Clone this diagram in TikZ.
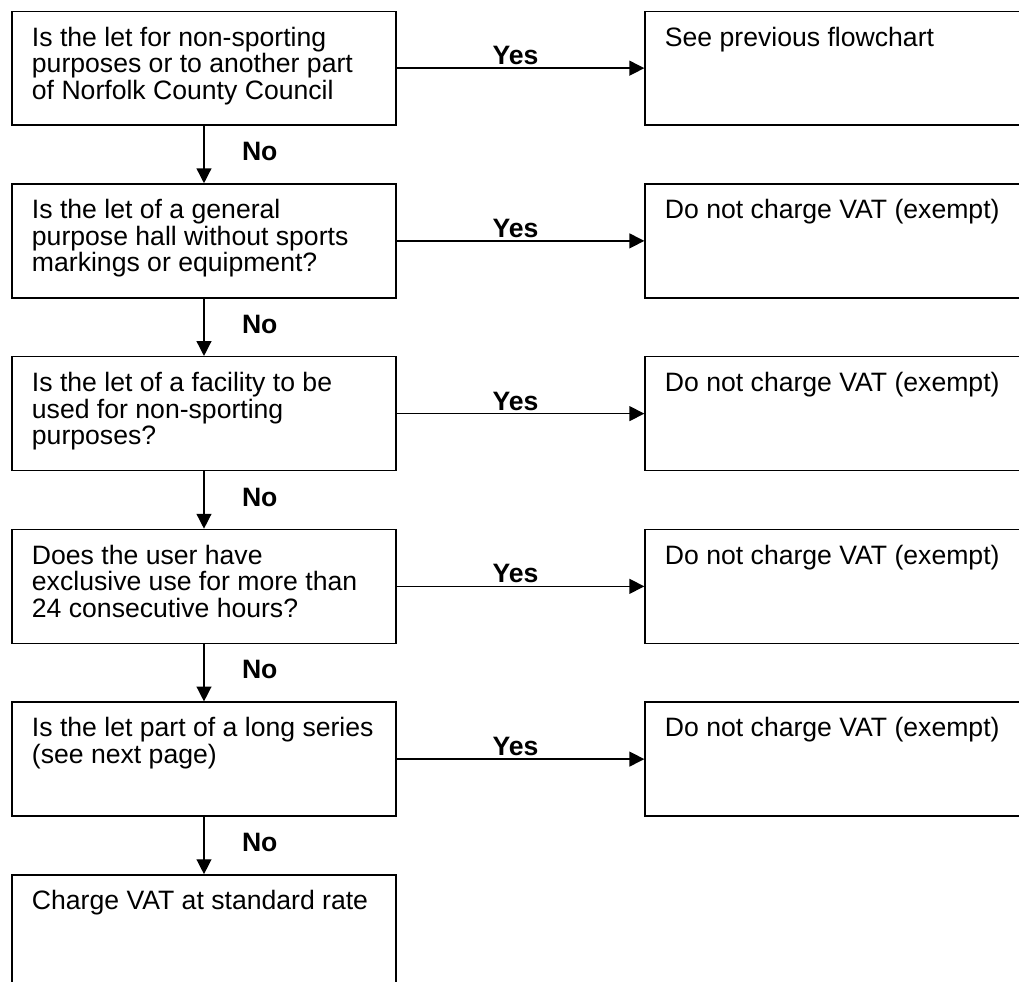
\documentclass[tikz,border=0pt]{standalone}
\usepackage{fontspec}
\setmainfont{Liberation Sans}
\usepackage{tikz}
\usetikzlibrary{arrows.meta, calc, matrix, positioning}
\newcommand{\boxtext}[1]{\parbox[t][47.3pt][t]{219.4pt}{\raggedright\leftskip=11.4pt\lineskiplimit=-20pt\strut #1}}
\tikzset{
  % Graph arrow style
  garr/.style={
    line width = 0.8pt
    , >={Triangle[length=8.5pt, width=8.5pt]}
  },
}
\tikzset{
  %question / answer box style
  qbox/.style={
    draw
    , line width=0.8pt
    , anchor=center
    , inner xsep=0pt
    , inner ysep=8.9pt
    , minimum width=219.4pt
    , minimum height=65.1pt
    , font=\fontsize{15.2}{15.2}\selectfont
  },
}
\tikzset{
  %Yes / No labels
  lab/.style={
    font=\fontsize{15.2}{17}\selectfont\bfseries
  },
}

\begin{document}
\begin{tikzpicture}[x=0.5714pt, y=-0.5714pt]
        \useasboundingbox (0,0) rectangle (1019,982);
        \matrix (flow) [matrix of nodes
                      , column sep=141.5pt
                      , row sep=32.8pt
                      , anchor=center
                      , ampersand replacement=\&
                     ] at (520.5,500)
          {
            |[qbox]| \boxtext{Is the let for non-sporting\\purposes or to another part\\of Norfolk County Council} %1-1
            \& |[qbox]| \boxtext{See previous flowchart} %1-2
            \\
            |[qbox]| \boxtext{Is the let of a general\\purpose hall without sports\\markings or equipment?} %2-1
            \& |[qbox]| \boxtext{Do not charge VAT (exempt)} %2-2
            \\
            |[qbox]| \boxtext{Is the let of a facility to be\\used for non-sporting\\purposes?} %3-1
            \& |[qbox]| \boxtext{Do not charge VAT (exempt)} %3-2
            \\
            |[qbox]| \boxtext{Does the user have\\exclusive use for more than\\24 consecutive hours?} %4-1
            \& |[qbox]| \boxtext{Do not charge VAT (exempt)} %4-2
            \\
            |[qbox]| \boxtext{Is the let part of a long series\\(see next page)} %5-1
            \& |[qbox]| \boxtext{Do not charge VAT (exempt)} %5-2
            \\
            |[qbox]| \boxtext{Charge VAT at standard rate} %6-1
            \& {}
            \\
          }; % matrix
          % Yes arrows
          \foreach \r in {1,...,5}{
            \draw[->, garr]
              (flow-\r-1.east)
              to node[lab, above, inner sep=1.5pt, pos=0.48] {Yes}
              (flow-\r-2.west);
          }
          % No arrows
          \foreach \r [evaluate=\r as \n using int(\r+1)] in {1,...,5}{
            \draw[->, garr]
              (flow-\r-1.south)
              to node[lab, pos=0.45, right=18pt] {No}
              (flow-\n-1.north);
          }
      \end{tikzpicture}
\end{document}
